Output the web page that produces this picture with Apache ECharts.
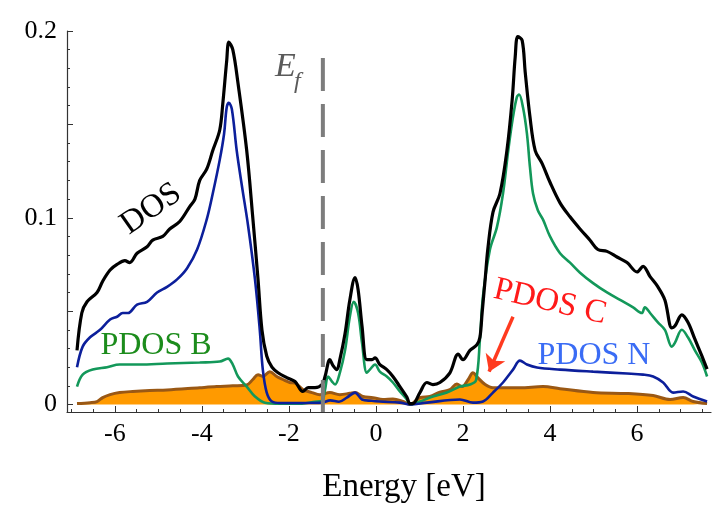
<!DOCTYPE html>
<html>
<head>
<meta charset="utf-8">
<script src="https://cdn.jsdelivr.net/npm/echarts@6/dist/echarts.min.js"></script>
<style>
html,body{margin:0;padding:0;background:#fff;}
#c{width:721px;height:507px;}
</style>
</head>
<body>
<div id="c"></div>
<script>
// ---------- data ----------
const dosE = [-6.87,-6.76,-6.64,-6.41,-6.28,-6.11,-5.95,-5.77,-5.66,-5.49,-5.26,-5.13,-4.90,-4.74,-4.51,-4.28,-4.16,-4.05,-3.89,-3.75,-3.59,-3.52,-3.43,-3.38,-3.29,-3.17,-2.97,-2.83,-2.71,-2.62,-2.51,-2.39,-2.25,-2.05,-1.86,-1.68,-1.56,-1.40,-1.24,-1.17,-1.06,-0.99,-0.90,-0.83,-0.71,-0.60,-0.48,-0.41,-0.32,-0.21,-0.09,-0.02,0.09,0.25,0.39,0.55,0.71,0.78,0.85,1.01,1.17,1.31,1.47,1.70,1.89,2.00,2.16,2.32,2.39,2.44,2.51,2.57,2.69,2.85,3.01,3.13,3.20,3.26,3.36,3.43,3.54,3.66,3.82,4.00,4.23,4.46,4.69,4.92,5.10,5.31,5.54,5.77,6.00,6.14,6.30,6.48,6.64,6.80,6.87,7.03,7.17,7.33,7.49,7.61];
const dosV = [0.029,0.049,0.055,0.060,0.066,0.072,0.075,0.077,0.076,0.081,0.0845,0.088,0.090,0.094,0.098,0.106,0.110,0.120,0.126,0.136,0.147,0.161,0.184,0.194,0.190,0.172,0.136,0.100,0.067,0.040,0.026,0.020,0.017,0.0144,0.0123,0.007,0.009,0.009,0.0107,0.015,0.024,0.021,0.0187,0.024,0.038,0.056,0.068,0.0615,0.042,0.024,0.024,0.025,0.0214,0.0187,0.015,0.0096,0.004,0.0005,0.0005,0.0064,0.0118,0.0107,0.0118,0.017,0.027,0.024,0.029,0.032,0.036,0.049,0.067,0.083,0.103,0.113,0.136,0.163,0.186,0.197,0.195,0.178,0.154,0.136,0.129,0.119,0.108,0.1005,0.094,0.088,0.083,0.082,0.079,0.076,0.071,0.074,0.0685,0.063,0.056,0.041,0.042,0.048,0.044,0.035,0.026,0.019];

const pdosNE = [-6.87,-6.74,-6.57,-6.34,-6.11,-5.95,-5.82,-5.70,-5.49,-5.26,-5.03,-4.80,-4.57,-4.34,-4.11,-3.89,-3.75,-3.59,-3.49,-3.43,-3.38,-3.31,-3.20,-3.08,-2.94,-2.78,-2.67,-2.60,-2.51,-2.39,-2.20,-1.60,-1.24,-1.05,-0.85,-0.67,-0.48,-0.32,-0.10,0.09,0.55,0.78,1.17,1.93,2.23,2.46,2.69,2.92,3.15,3.31,3.47,3.70,4.23,4.99,5.77,6.14,6.37,6.60,6.83,7.06,7.29,7.61];
const pdosNV = [0.020,0.031,0.036,0.040,0.0455,0.047,0.049,0.049,0.0535,0.055,0.060,0.063,0.067,0.073,0.083,0.099,0.113,0.131,0.145,0.159,0.1615,0.158,0.136,0.117,0.096,0.067,0.040,0.0187,0.0064,0.0016,0.0008,0.0008,0.001,0.0022,0.0015,0.0037,0.0064,0.0027,0.002,0.0016,0.001,0.0,0.001,0.0027,0.001,0.0016,0.0064,0.0118,0.0187,0.0235,0.0214,0.0198,0.0187,0.0176,0.0166,0.016,0.015,0.0118,0.0064,0.007,0.0043,0.0016];

const pdosBE = [-6.87,-6.74,-6.51,-6.18,-5.89,-5.43,-4.80,-4.05,-3.59,-3.40,-3.29,-3.17,-2.97,-2.78,-2.55,-2.20,-1.70,-1.40,-1.24,-1.17,-1.10,-1.01,-0.94,-0.83,-0.71,-0.60,-0.51,-0.41,-0.32,-0.21,-0.14,-0.02,0.09,0.25,0.39,0.55,0.71,0.78,1.01,1.31,1.63,1.93,2.16,2.30,2.39,2.46,2.62,2.78,2.92,3.04,3.15,3.24,3.29,3.38,3.47,3.54,3.61,3.72,3.84,4.00,4.23,4.46,4.69,4.99,5.31,5.61,5.91,6.11,6.18,6.30,6.48,6.64,6.80,6.87,7.03,7.17,7.33,7.49,7.61];
const pdosBV = [0.0096,0.016,0.0187,0.020,0.0214,0.0214,0.022,0.0225,0.023,0.0246,0.0214,0.015,0.0096,0.0043,0.001,0.0005,0.0005,0.0015,0.002,0.008,0.015,0.0123,0.0107,0.017,0.029,0.047,0.055,0.049,0.033,0.017,0.0187,0.0214,0.0176,0.015,0.0118,0.007,0.0027,0.0,0.0016,0.0043,0.0064,0.0096,0.0107,0.013,0.035,0.058,0.083,0.095,0.113,0.136,0.154,0.1647,0.166,0.159,0.145,0.127,0.113,0.104,0.099,0.090,0.081,0.076,0.0706,0.065,0.060,0.056,0.052,0.049,0.052,0.049,0.044,0.040,0.031,0.033,0.040,0.036,0.029,0.0225,0.015];

const pdosCE = [-6.87,-6.57,-6.41,-6.28,-6.11,-5.89,-5.59,-5.20,-4.80,-4.05,-3.66,-3.29,-2.97,-2.83,-2.71,-2.60,-2.44,-2.28,-2.14,-1.98,-1.86,-1.68,-1.47,-1.29,-1.06,-0.83,-0.60,-0.48,-0.30,-0.07,0.16,0.39,0.62,0.78,1.01,1.24,1.47,1.70,1.86,1.98,2.12,2.23,2.34,2.51,2.69,3.01,3.31,3.84,4.23,4.99,5.77,6.37,6.76,7.06,7.29,7.61];
const pdosCV = [0.0005,0.001,0.0016,0.0037,0.0053,0.0064,0.007,0.0075,0.0078,0.009,0.0096,0.010,0.0105,0.0134,0.016,0.015,0.0176,0.015,0.0134,0.0118,0.0115,0.008,0.0064,0.0052,0.0064,0.0053,0.006,0.0064,0.0043,0.0037,0.0027,0.003,0.0016,0.0,0.0037,0.0043,0.0066,0.008,0.011,0.0096,0.0134,0.017,0.0144,0.0107,0.009,0.009,0.009,0.0096,0.0085,0.0064,0.0059,0.0048,0.0027,0.0037,0.0016,0.0005];

// Fermi level and annotation arrow (data coordinates)
const fermiEnergy = -1.22;
const fermiLineTop = 0.1856;
const arrowFrom = [3.15, 0.047];
const arrowTo = [2.60, 0.0176];

// axis ranges and ticks
const xRange = [-7.1, 7.7];
const yRange = [-0.004, 0.2];
const xTickLabels = [-6, -4, -2, 0, 2, 4, 6];
const xMinorTicks = [-7, -6.5, -5.5, -5, -4.5, -3.5, -3, -2.5, -1.5, -1, -0.5, 0.5, 1, 1.5, 2.5, 3, 3.5, 4.5, 5, 5.5, 6.5, 7, 7.5];
const yTickLabels = [0, 0.1, 0.2];
const yMajorTicks = [0, 0.05, 0.1, 0.15, 0.2];
const yMinorTicks = [0.01,0.02,0.03,0.04,0.06,0.07,0.08,0.09,0.11,0.12,0.13,0.14,0.16,0.17,0.18,0.19];

// ---------- chart ----------
const zip = (a, b) => a.map((x, i) => [x, b[i]]);
const serif = 'Liberation Serif';
const axisColor = '#333';

const chart = echarts.init(document.getElementById('c'), null, {renderer: 'canvas', width: 721, height: 507});

const pick = list => v => (list.some(t => Math.abs(t - v) < 1e-9) ? String(v) : '');

const option = {
  animation: false,
  backgroundColor: '#fff',
  textStyle: {fontFamily: serif},
  grid: {left: 67, right: 10, top: 31, bottom: 95, containLabel: false, outerBoundsMode: 'none'},
  xAxis: [
    {
      type: 'value', min: xRange[0], max: xRange[1], position: 'bottom', splitNumber: 7,
      axisLine: {show: true, onZero: false, lineStyle: {color: axisColor, width: 1.2}},
      axisTick: {show: true, inside: true, length: 6, customValues: xTickLabels, lineStyle: {color: axisColor, width: 1}},
      axisLabel: {margin: 9, fontFamily: serif, fontSize: 26, color: '#000',
                  showMinLabel: false, showMaxLabel: false, hideOverlap: false,
                  formatter: pick(xTickLabels)},
      splitLine: {show: false},
      name: 'Energy [eV]', nameLocation: 'middle', nameGap: 59,
      nameTextStyle: {fontFamily: serif, fontSize: 33, color: '#000', padding: [0, 0, 0, 30]}
    },
    {
      type: 'value', min: xRange[0], max: xRange[1], position: 'bottom',
      axisLine: {show: false, onZero: false},
      axisTick: {show: true, inside: true, length: 3, customValues: xMinorTicks, lineStyle: {color: axisColor, width: 1}},
      axisLabel: {show: false},
      splitLine: {show: false}
    }
  ],
  yAxis: [
    {
      type: 'value', min: yRange[0], max: yRange[1], position: 'left', splitNumber: 4,
      axisLine: {show: true, onZero: false, lineStyle: {color: axisColor, width: 1.2}},
      axisTick: {show: true, inside: true, length: 6, customValues: yMajorTicks, lineStyle: {color: axisColor, width: 1}},
      axisLabel: {margin: 10, fontFamily: serif, fontSize: 26, color: '#000',
                  showMinLabel: false, hideOverlap: false,
                  formatter: pick(yTickLabels)},
      splitLine: {show: false}
    },
    {
      type: 'value', min: yRange[0], max: yRange[1], position: 'left',
      axisLine: {show: false, onZero: false},
      axisTick: {show: true, inside: true, length: 3, customValues: yMinorTicks, lineStyle: {color: axisColor, width: 1}},
      axisLabel: {show: false},
      splitLine: {show: false}
    }
  ],
  series: [
    {
      name: 'PDOS C', type: 'line', xAxisIndex: 0, yAxisIndex: 0,
      data: zip(pdosCE, pdosCV), showSymbol: false, smooth: 0.35,
      lineStyle: {color: '#9a5814', width: 3},
      areaStyle: {color: '#ff9a00', opacity: 1},
      z: 2,
      markLine: {
        silent: true, symbol: ['none', 'arrow'], symbolSize: 16,
        label: {show: false},
        lineStyle: {color: '#ff3a1f', width: 3.5, type: 'solid'},
        data: [[{coord: arrowFrom}, {coord: arrowTo}]]
      }
    },
    {
      name: 'PDOS B', type: 'line', xAxisIndex: 0, yAxisIndex: 0,
      data: zip(pdosBE, pdosBV), showSymbol: false, smooth: 0.35,
      lineStyle: {color: '#13985a', width: 2.6}, z: 3
    },
    {
      name: 'PDOS N', type: 'line', xAxisIndex: 0, yAxisIndex: 0,
      data: zip(pdosNE, pdosNV), showSymbol: false, smooth: 0.35,
      lineStyle: {color: '#0c1f9b', width: 2.6}, z: 4
    },
    {
      name: 'DOS', type: 'line', xAxisIndex: 0, yAxisIndex: 0,
      data: zip(dosE, dosV), showSymbol: false, smooth: 0.35,
      lineStyle: {color: '#000', width: 3.2}, z: 5
    },
    {
      name: 'Ef', type: 'line', xAxisIndex: 0, yAxisIndex: 0,
      data: [[fermiEnergy, fermiLineTop], [fermiEnergy, yRange[0]]],
      showSymbol: false,
      lineStyle: {color: '#7d7d7d', width: 4, type: [33, 13], cap: 'butt'}, z: 6
    }
  ],
  graphic: [
    {type: 'text', x: 151, y: 209, rotation: 0.61,
     style: {text: 'DOS', fontFamily: serif, fontSize: 33, fill: '#000', align: 'center', verticalAlign: 'middle'}},
    {type: 'text', x: 156, y: 346,
     style: {text: 'PDOS B', fontFamily: serif, fontSize: 32, fill: '#1c8c1c', align: 'center', verticalAlign: 'middle'}},
    {type: 'text', x: 594, y: 356,
     style: {text: 'PDOS N', fontFamily: serif, fontSize: 32, fill: '#3a6cf5', align: 'center', verticalAlign: 'middle'}},
    {type: 'text', x: 550, y: 302, rotation: -0.227,
     style: {text: 'PDOS C', fontFamily: serif, fontSize: 33, fill: '#ff1a1a', align: 'center', verticalAlign: 'middle'}},
    {type: 'text', x: 275, y: 67,
     style: {text: 'E', fontFamily: serif, fontStyle: 'italic', fontSize: 34, fill: '#5a5a5a', align: 'left', verticalAlign: 'middle'}},
    {type: 'text', x: 294, y: 82,
     style: {text: 'f', fontFamily: serif, fontStyle: 'italic', fontSize: 24, fill: '#5a5a5a', align: 'left', verticalAlign: 'middle'}}
  ]
};
chart.setOption(option);
</script>
</body>
</html>
